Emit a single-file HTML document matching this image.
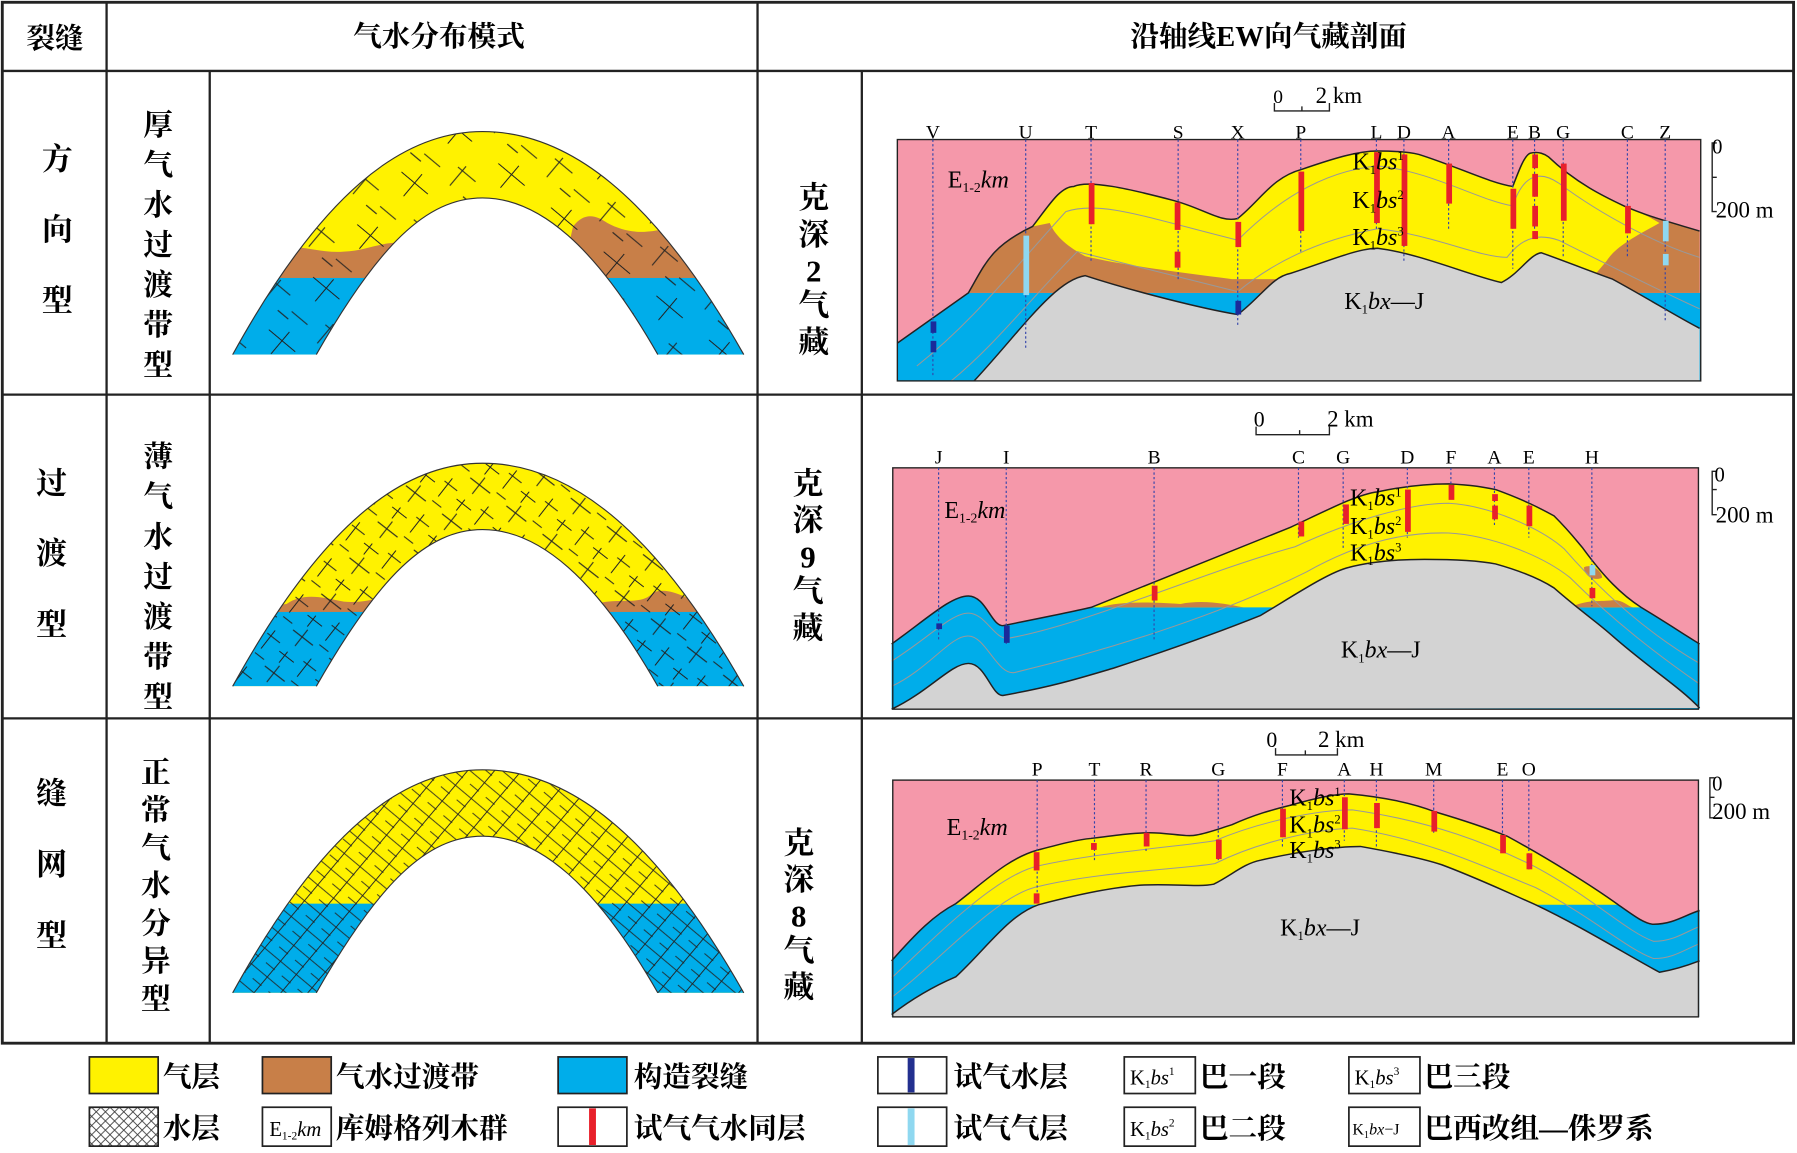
<!DOCTYPE html>
<html><head><meta charset="utf-8"><style>
html,body{margin:0;padding:0;background:#fff}
svg{display:block}
text{font-family:"Liberation Serif","Noto Serif CJK SC",serif}
.cn{font-family:"Liberation Serif","Noto Serif CJK SC","Noto Sans CJK SC",serif;font-weight:bold}
</style></head><body>
<svg width="1797" height="1153" viewBox="0 0 1568 1008" preserveAspectRatio="none" xmlns="http://www.w3.org/2000/svg">
<defs>
<pattern id="h1" width="60" height="60" patternUnits="userSpaceOnUse" patternTransform="rotate(40)">
<path d="M5 10h30M20 0v25M40 35h20M45 30v22M10 45h18M0 52h12" stroke="#222" stroke-width="0.9" fill="none"/>
</pattern>
<pattern id="h2" width="40" height="40" patternUnits="userSpaceOnUse" patternTransform="rotate(38)">
<path d="M2 8h22M12 0v18M26 24h14M30 18v20M4 30h16M10 26v12M28 4h10" stroke="#222" stroke-width="0.9" fill="none"/>
</pattern>
<pattern id="h3" width="18" height="18" patternUnits="userSpaceOnUse" patternTransform="rotate(40)">
<path d="M0 5h18M9 0v18M0 14h10" stroke="#222" stroke-width="0.8" fill="none"/>
</pattern>
<pattern id="xx" width="8" height="8" patternUnits="userSpaceOnUse"><path d="M0 0L8 8M8 0L0 8" stroke="#333" stroke-width="0.7"/></pattern>
<path id="arch" d="M203,310 C280,170 350,115 421,115 C495,115 570,170 649,310 L574,310 C520,215 470,173 421,173 C372,173 330,215 276,310 Z"/>
<clipPath id="ca"><use href="#arch"/></clipPath>
</defs>

<!-- Table -->
<rect x="2" y="2" width="1563" height="910" fill="none" stroke="#222" stroke-width="2.5"/>
<g stroke="#222" stroke-width="2">
<line x1="2" y1="62" x2="1565" y2="62"/>
<line x1="2" y1="345" x2="1565" y2="345"/>
<line x1="2" y1="628" x2="1565" y2="628"/>
<line x1="93" y1="2" x2="93" y2="912"/>
<line x1="183" y1="62" x2="183" y2="912"/>
<line x1="661" y1="2" x2="661" y2="912"/>
<line x1="752" y1="62" x2="752" y2="912"/>
</g>
<g class="cn" font-size="25" text-anchor="middle">
<text x="48" y="42">裂缝</text>
<text x="383" y="40">气水分布模式</text>
<text x="1107" y="40">沿轴线EW向气藏剖面</text>
</g>
<g class="cn" font-size="27" text-anchor="middle">
<text x="50" y="148">方</text><text x="50" y="210">向</text><text x="50" y="272">型</text>
<text x="45" y="432">过</text><text x="45" y="493">渡</text><text x="45" y="555">型</text>
<text x="45" y="703">缝</text><text x="45" y="765">网</text><text x="45" y="827">型</text>
</g>
<g class="cn" font-size="26" text-anchor="middle">
<text x="138" y="118">厚</text><text x="138" y="153">气</text><text x="138" y="188">水</text><text x="138" y="223">过</text><text x="138" y="258">渡</text><text x="138" y="293">带</text><text x="138" y="328">型</text>
<text x="138" y="408">薄</text><text x="138" y="443">气</text><text x="138" y="478">水</text><text x="138" y="513">过</text><text x="138" y="548">渡</text><text x="138" y="583">带</text><text x="138" y="618">型</text>
<text x="136" y="684">正</text><text x="136" y="717">常</text><text x="136" y="750">气</text><text x="136" y="783">水</text><text x="136" y="816">分</text><text x="136" y="849">异</text><text x="136" y="882">型</text>
</g>
<g class="cn" font-size="27" text-anchor="middle">
<text x="710" y="182">克</text><text x="710" y="214">深</text><text x="710" y="246">2</text><text x="710" y="276">气</text><text x="710" y="308">藏</text>
<text x="705" y="432">克</text><text x="705" y="464">深</text><text x="705" y="496">9</text><text x="705" y="526">气</text><text x="705" y="558">藏</text>
<text x="697" y="746">克</text><text x="697" y="778">深</text><text x="697" y="810">8</text><text x="697" y="840">气</text><text x="697" y="872">藏</text>
</g>

<!-- Arch models -->
<g>
<g clip-path="url(#ca)">
<rect x="190" y="100" width="470" height="220" fill="#fff200"/>
<path d="M190,243 L190,225 L240,222 C260,210 275,222 300,220 C320,219 330,212 350,212 L352,243Z" fill="#c87f48"/>
<path d="M490,243 L500,198 C510,185 520,188 530,195 C545,203 560,205 580,200 L660,195 L660,243Z" fill="#c87f48"/>
<rect x="190" y="243" width="470" height="80" fill="#00adea"/>
<rect x="190" y="100" width="470" height="220" fill="url(#h1)"/>
</g>
<path d="M203,310 C280,170 350,115 421,115 C495,115 570,170 649,310 M574,310 C520,215 470,173 421,173 C372,173 330,215 276,310" fill="none" stroke="#333" stroke-width="1"/>
</g>
<g transform="translate(0,290)">
<g clip-path="url(#ca)">
<rect x="190" y="100" width="470" height="220" fill="#fff200"/>
<path d="M190,245 L250,238 C265,228 280,232 300,236 C320,238 335,230 345,232 L350,245Z" fill="#c87f48"/>
<path d="M510,245 L520,238 C540,232 560,240 570,228 C585,222 600,235 620,240 L660,245Z" fill="#c87f48"/>
<rect x="190" y="245" width="470" height="80" fill="#00adea"/>
<rect x="190" y="100" width="470" height="220" fill="url(#h2)"/>
</g>
<path d="M203,310 C280,170 350,115 421,115 C495,115 570,170 649,310 M574,310 C520,215 470,173 421,173 C372,173 330,215 276,310" fill="none" stroke="#333" stroke-width="1"/>
</g>
<g transform="translate(0,558)">
<g clip-path="url(#ca)">
<rect x="190" y="100" width="470" height="220" fill="#fff200"/>
<rect x="190" y="232" width="470" height="90" fill="#00adea"/>
<rect x="190" y="100" width="470" height="220" fill="url(#h3)"/>
</g>
<path d="M203,310 C280,170 350,115 421,115 C495,115 570,170 649,310 M574,310 C520,215 470,173 421,173 C372,173 330,215 276,310" fill="none" stroke="#333" stroke-width="1"/>
</g>

<!-- Section 1 -->
<g>
<rect x="783" y="122" width="701" height="211" fill="#f598aa"/>
<!-- blue -->
<path d="M783,300 L845,256 L1484,256 L1484,333 L783,333Z" fill="#00adea"/>
<!-- brown + yellow reservoir above water -->
<path d="M845,256 C860,230 865,215 901,198 C915,180 925,163 937,163 C950,157 985,165 1023,175 C1050,182 1065,195 1080,191 C1100,175 1110,155 1136,148 C1165,138 1185,132 1202,132 C1220,132 1230,133 1238,135 C1270,145 1300,160 1320,163 C1325,150 1330,136 1335,134 C1343,132 1348,135 1351,137 C1375,160 1400,172 1417,180 C1440,190 1460,195 1483,202 L1483,256Z" fill="#c87f48"/>
<path d="M901,198 C915,180 925,163 937,163 C950,157 985,165 1023,175 C1050,182 1065,195 1080,191 C1100,175 1110,155 1136,148 C1165,138 1185,132 1202,132 C1220,132 1230,133 1238,135 C1270,145 1300,160 1320,163 C1325,150 1330,136 1335,134 C1343,132 1348,135 1351,137 C1375,160 1400,172 1417,180 C1430,185 1440,190 1448,195 C1430,205 1410,215 1402,228 L1391,241 L1310,247 L1280,240 L1150,244 L1121,244 L1075,244 C1030,238 980,232 947,224 C930,215 920,205 916,195Z" fill="#fff200"/>
<!-- gray -->
<path d="M850,333 C890,290 920,245 947,241 C990,255 1050,270 1080,275 C1100,260 1110,242 1126,239 C1160,228 1185,217 1202,217 C1240,222 1280,240 1310,247 C1325,240 1335,222 1345,221 C1370,230 1390,238 1407,244 C1440,262 1460,275 1483,287 L1483,333Z" fill="#d3d3d3"/>
<g fill="none" stroke="#222" stroke-width="1.3">
<path d="M783,300 L845,256 C860,230 865,215 901,198 C915,180 925,163 937,163 C950,157 985,165 1023,175 C1050,182 1065,195 1080,191 C1100,175 1110,155 1136,148 C1165,138 1185,132 1202,132 C1220,132 1230,133 1238,135 C1270,145 1300,160 1320,163 C1325,150 1330,136 1335,134 C1343,132 1348,135 1351,137 C1375,160 1400,172 1417,180 C1440,190 1460,195 1483,202"/>
<path d="M850,333 C890,290 920,245 947,241 C990,255 1050,270 1080,275 C1100,260 1110,242 1126,239 C1160,228 1185,217 1202,217 C1240,222 1280,240 1310,247 C1325,240 1335,222 1345,221 C1370,230 1390,238 1407,244 C1440,262 1460,275 1483,287"/>
</g>
<g fill="none" stroke="#999" stroke-width="0.9">
<path d="M800,320 C850,280 880,240 930,185 C960,175 1000,190 1080,210 C1110,180 1150,150 1202,145 C1250,150 1290,175 1320,180 C1330,150 1345,150 1360,160 C1400,190 1450,215 1483,225"/>
<path d="M830,333 C870,300 900,260 940,220 C980,230 1040,245 1080,255 C1110,230 1150,210 1202,200 C1250,205 1290,225 1315,225 C1330,205 1345,205 1360,210 C1400,230 1450,255 1483,270"/>
</g>
<rect x="783" y="122" width="701" height="211" fill="none" stroke="#222" stroke-width="1.2"/>
<g stroke="#3344aa" stroke-width="1" stroke-dasharray="2,2">
<line x1="814" y1="122" x2="814" y2="330"/><line x1="895" y1="122" x2="895" y2="305"/><line x1="952" y1="122" x2="952" y2="230"/><line x1="1028" y1="122" x2="1028" y2="245"/><line x1="1080" y1="122" x2="1080" y2="285"/><line x1="1135" y1="122" x2="1135" y2="220"/><line x1="1201" y1="122" x2="1201" y2="200"/><line x1="1225" y1="122" x2="1225" y2="230"/><line x1="1264" y1="122" x2="1264" y2="200"/><line x1="1320" y1="122" x2="1320" y2="235"/><line x1="1339" y1="122" x2="1339" y2="210"/><line x1="1364" y1="122" x2="1364" y2="225"/><line x1="1420" y1="122" x2="1420" y2="225"/><line x1="1453" y1="122" x2="1453" y2="280"/>
</g>
<g fill="#e8202a">
<rect x="950" y="160" width="5" height="36"/><rect x="1025" y="177" width="5" height="24"/><rect x="1025" y="220" width="5" height="14"/><rect x="1078" y="194" width="5" height="22"/><rect x="1133" y="150" width="5" height="52"/><rect x="1199" y="133" width="5" height="62"/><rect x="1223" y="135" width="5" height="80"/><rect x="1262" y="143" width="5" height="35"/><rect x="1318" y="165" width="5" height="35"/><rect x="1337" y="135" width="5" height="12"/><rect x="1337" y="152" width="5" height="20"/><rect x="1337" y="180" width="5" height="18"/><rect x="1337" y="202" width="5" height="7"/><rect x="1362" y="143" width="5" height="50"/><rect x="1418" y="180" width="5" height="24"/>
</g>
<rect x="893" y="206" width="5" height="52" fill="#8fd8f0"/>
<rect x="1451" y="193" width="5" height="18" fill="#8fd8f0"/><rect x="1451" y="222" width="5" height="10" fill="#8fd8f0"/>
<g fill="#1a2a9a"><rect x="812" y="281" width="5" height="10"/><rect x="812" y="298" width="5" height="10"/><rect x="1078" y="263" width="5" height="12"/></g>
<g font-size="17" text-anchor="middle">
<text x="814" y="121">V</text><text x="895" y="121">U</text><text x="952" y="121">T</text><text x="1028" y="121">S</text><text x="1080" y="121">X</text><text x="1135" y="121">P</text><text x="1201" y="121">L</text><text x="1225" y="121">D</text><text x="1264" y="121">A</text><text x="1320" y="121">E</text><text x="1339" y="121">B</text><text x="1364" y="121">G</text><text x="1420" y="121">C</text><text x="1453" y="121">Z</text>
</g>
<g font-size="21"><text x="827" y="164">E<tspan font-size="12" dy="4">1-2</tspan><tspan dy="-4" font-style="italic">km</tspan></text>
<text x="1180" y="148">K<tspan font-size="11" dy="4">1</tspan><tspan dy="-4" font-style="italic">bs</tspan><tspan font-size="11" dy="-8">1</tspan></text>
<text x="1180" y="182">K<tspan font-size="11" dy="4">1</tspan><tspan dy="-4" font-style="italic">bs</tspan><tspan font-size="11" dy="-8">2</tspan></text>
<text x="1180" y="214">K<tspan font-size="11" dy="4">1</tspan><tspan dy="-4" font-style="italic">bs</tspan><tspan font-size="11" dy="-8">3</tspan></text>
<text x="1173" y="270">K<tspan font-size="11" dy="4">1</tspan><tspan dy="-4" font-style="italic">bx</tspan>—J</text></g>
<g stroke="#222" fill="none" stroke-width="1.2"><path d="M1112,90 V97 H1160 V90 M1136,93 V97"/><path d="M1498,125 H1494 V185 H1498 M1494,155 H1498"/></g>
<text x="1111" y="90" font-size="17">0</text><text x="1148" y="90" font-size="20">2 km</text>
<text x="1494" y="134" font-size="18">0</text><text x="1497" y="190" font-size="20">200 m</text>
</g>

<!-- Section 2 -->
<g>
<rect x="779" y="409" width="703" height="211" fill="#f598aa"/>
<path d="M778,563 C810,540 830,521 845,521 C860,521 865,547 875,547 C900,542 930,536 952,531 C1030,500 1090,475 1126,461 C1160,445 1185,432 1202,430 C1230,424 1250,423 1264,423 C1285,424 1295,426 1305,428 C1330,437 1345,445 1356,451 C1370,465 1375,472 1381,479 C1400,505 1415,520 1432,531 C1455,545 1470,555 1483,563 L1483,620 L778,620Z" fill="#00adea"/>
<path d="M952,531 C1030,500 1090,475 1126,461 C1160,445 1185,432 1202,430 C1230,424 1250,423 1264,423 C1285,424 1295,426 1305,428 C1330,437 1345,445 1356,451 C1370,465 1375,472 1381,479 C1400,505 1415,520 1432,531 Z" fill="#fff200"/>
<path d="M960,531 C975,526 1000,526 1030,528 C1050,524 1070,528 1085,531Z M1370,531 C1385,524 1395,526 1405,525 C1415,523 1420,530 1425,531Z M1382,496 C1390,492 1398,500 1398,505 C1392,508 1383,505 1382,496Z" fill="#c87f48"/>
<path d="M778,620 C810,605 830,580 845,580 C860,580 865,608 875,608 C920,600 945,592 972,584 C1030,565 1070,550 1100,538 C1130,520 1160,500 1177,496 C1200,490 1225,489 1243,489 C1270,489 1290,490 1305,493 C1330,500 1345,507 1356,514 C1380,535 1395,545 1407,556 C1440,585 1465,600 1483,619 Z" fill="#d3d3d3"/>
<g fill="none" stroke="#222" stroke-width="1.3">
<path d="M778,563 C810,540 830,521 845,521 C860,521 865,547 875,547 C900,542 930,536 952,531 C1030,500 1090,475 1126,461 C1160,445 1185,432 1202,430 C1230,424 1250,423 1264,423 C1285,424 1295,426 1305,428 C1330,437 1345,445 1356,451 C1370,465 1375,472 1381,479 C1400,505 1415,520 1432,531 C1455,545 1470,555 1483,563"/>
<path d="M778,620 C810,605 830,580 845,580 C860,580 865,608 875,608 C920,600 945,592 972,584 C1030,565 1070,550 1100,538 C1130,520 1160,500 1177,496 C1200,490 1225,489 1243,489 C1270,489 1290,490 1305,493 C1330,500 1345,507 1356,514 C1380,535 1395,545 1407,556 C1440,585 1465,600 1483,619"/>
</g>
<g fill="none" stroke="#999" stroke-width="0.9">
<path d="M778,578 C810,558 830,536 845,536 C860,536 868,560 880,558 C950,545 1050,500 1130,478 C1180,455 1230,440 1264,440 C1300,442 1345,462 1365,480 C1400,520 1440,555 1483,580"/>
<path d="M778,600 C810,585 830,555 845,556 C860,556 870,590 885,588 C960,570 1060,540 1140,500 C1190,472 1230,465 1264,466 C1300,468 1345,485 1370,505 C1410,545 1450,575 1483,598"/>
</g>
<rect x="779" y="409" width="703" height="211" fill="none" stroke="#222" stroke-width="1.2"/>
<g stroke="#3344aa" stroke-width="1" stroke-dasharray="2,2">
<line x1="819" y1="409" x2="819" y2="560"/><line x1="878" y1="409" x2="878" y2="565"/><line x1="1007" y1="409" x2="1007" y2="560"/><line x1="1133" y1="409" x2="1133" y2="470"/><line x1="1172" y1="409" x2="1172" y2="480"/><line x1="1228" y1="409" x2="1228" y2="470"/><line x1="1266" y1="409" x2="1266" y2="435"/><line x1="1304" y1="409" x2="1304" y2="460"/><line x1="1334" y1="409" x2="1334" y2="470"/><line x1="1389" y1="409" x2="1389" y2="530"/>
</g>
<g fill="#e8202a"><rect x="1005" y="512" width="5" height="13"/><rect x="1133" y="456" width="5" height="13"/><rect x="1172" y="441" width="5" height="17"/><rect x="1226" y="428" width="5" height="37"/><rect x="1264" y="424" width="5" height="13"/><rect x="1302" y="432" width="5" height="6"/><rect x="1302" y="442" width="5" height="12"/><rect x="1332" y="442" width="5" height="18"/><rect x="1387" y="514" width="5" height="9"/></g>
<rect x="1387" y="494" width="5" height="9" fill="#8fd8f0"/>
<g fill="#1a2a9a"><rect x="817" y="545" width="5" height="5"/><rect x="876" y="547" width="5" height="15"/></g>
<g font-size="17" text-anchor="middle">
<text x="819" y="405">J</text><text x="878" y="405">I</text><text x="1007" y="405">B</text><text x="1133" y="405">C</text><text x="1172" y="405">G</text><text x="1228" y="405">D</text><text x="1266" y="405">F</text><text x="1304" y="405">A</text><text x="1334" y="405">E</text><text x="1389" y="405">H</text>
</g>
<g font-size="21"><text x="824" y="453">E<tspan font-size="12" dy="4">1-2</tspan><tspan dy="-4" font-style="italic">km</tspan></text>
<text x="1178" y="442">K<tspan font-size="11" dy="4">1</tspan><tspan dy="-4" font-style="italic">bs</tspan><tspan font-size="11" dy="-8">1</tspan></text>
<text x="1178" y="467">K<tspan font-size="11" dy="4">1</tspan><tspan dy="-4" font-style="italic">bs</tspan><tspan font-size="11" dy="-8">2</tspan></text>
<text x="1178" y="490">K<tspan font-size="11" dy="4">1</tspan><tspan dy="-4" font-style="italic">bs</tspan><tspan font-size="11" dy="-8">3</tspan></text>
<text x="1170" y="575">K<tspan font-size="11" dy="4">1</tspan><tspan dy="-4" font-style="italic">bx</tspan>—J</text></g>
<g stroke="#222" fill="none" stroke-width="1.2"><path d="M1096,373 V380 H1160 V373 M1134,376 V380"/><path d="M1498,412 H1494 V450 H1498 M1494,428 H1498"/></g>
<text x="1094" y="373" font-size="19">0</text><text x="1158" y="373" font-size="20">2 km</text>
<text x="1496" y="421" font-size="18">0</text><text x="1497" y="457" font-size="20">200 m</text>
</g>

<!-- Section 3 -->
<g>
<rect x="779" y="682" width="703" height="207" fill="#f598aa"/>
<path d="M778,840 C800,815 815,800 834,790 C860,770 880,750 906,743 C925,738 940,734 952,733 C975,730 990,728 1003,728 C1020,728 1035,732 1044,730 C1055,728 1065,724 1075,721 C1095,712 1110,708 1126,704 C1150,697 1165,694 1177,694 C1210,697 1235,703 1253,710 C1280,718 1300,725 1315,731 C1350,750 1390,775 1412,791 C1425,800 1435,808 1443,808 C1460,808 1470,800 1483,796 L1483,889 L778,889Z" fill="#00adea"/>
<path d="M834,791 C860,770 880,750 906,743 C925,738 940,734 952,733 C975,730 990,728 1003,728 C1020,728 1035,732 1044,730 C1055,728 1065,724 1075,721 C1095,712 1110,708 1126,704 C1150,697 1165,694 1177,694 C1210,697 1235,703 1253,710 C1280,718 1300,725 1315,731 C1350,750 1390,775 1412,791Z" fill="#fff200"/>
<path d="M778,887 C800,870 820,860 834,854 C860,830 880,800 906,791 C940,782 970,776 993,774 C1020,772 1045,776 1059,773 C1075,765 1085,755 1100,752 C1130,745 1165,740 1187,740 C1215,745 1240,750 1258,756 C1290,768 1315,780 1340,791 C1380,810 1420,835 1448,850 C1460,848 1470,845 1483,840 L1483,889 L778,889Z" fill="#d3d3d3"/>
<g fill="none" stroke="#222" stroke-width="1.3">
<path d="M778,840 C800,815 815,800 834,790 C860,770 880,750 906,743 C925,738 940,734 952,733 C975,730 990,728 1003,728 C1020,728 1035,732 1044,730 C1055,728 1065,724 1075,721 C1095,712 1110,708 1126,704 C1150,697 1165,694 1177,694 C1210,697 1235,703 1253,710 C1280,718 1300,725 1315,731 C1350,750 1390,775 1412,791 C1425,800 1435,808 1443,808 C1460,808 1470,800 1483,796"/>
<path d="M778,887 C800,870 820,860 834,854 C860,830 880,800 906,791 C940,782 970,776 993,774 C1020,772 1045,776 1059,773 C1075,765 1085,755 1100,752 C1130,745 1165,740 1187,740 C1215,745 1240,750 1258,756 C1290,768 1315,780 1340,791 C1380,810 1420,835 1448,850 C1460,848 1470,845 1483,840"/>
</g>
<g fill="none" stroke="#999" stroke-width="0.9">
<path d="M778,855 C820,815 870,765 906,757 C960,745 1030,740 1060,735 C1100,718 1150,708 1180,708 C1250,718 1300,738 1340,758 C1390,785 1420,815 1443,823 C1460,823 1470,815 1483,810"/>
<path d="M778,872 C820,840 870,782 906,775 C960,762 1030,760 1060,755 C1100,735 1150,725 1180,724 C1250,735 1300,760 1340,776 C1390,802 1420,830 1443,838 C1460,838 1470,830 1483,825"/>
</g>
<rect x="779" y="682" width="703" height="207" fill="none" stroke="#222" stroke-width="1.2"/>
<g stroke="#3344aa" stroke-width="1" stroke-dasharray="2,2">
<line x1="905" y1="682" x2="905" y2="790"/><line x1="955" y1="682" x2="955" y2="752"/><line x1="1000" y1="682" x2="1000" y2="745"/><line x1="1063" y1="682" x2="1063" y2="752"/><line x1="1119" y1="682" x2="1119" y2="740"/><line x1="1173" y1="682" x2="1173" y2="735"/><line x1="1201" y1="682" x2="1201" y2="742"/><line x1="1251" y1="682" x2="1251" y2="728"/><line x1="1311" y1="682" x2="1311" y2="740"/><line x1="1334" y1="682" x2="1334" y2="762"/>
</g>
<g fill="#e8202a"><rect x="902" y="745" width="5" height="16"/><rect x="902" y="781" width="5" height="9"/><rect x="952" y="737" width="5" height="6"/><rect x="998" y="728" width="5" height="12"/><rect x="1061" y="734" width="5" height="17"/><rect x="1117" y="707" width="5" height="25"/><rect x="1171" y="697" width="5" height="28"/><rect x="1199" y="702" width="5" height="22"/><rect x="1249" y="709" width="5" height="18"/><rect x="1309" y="730" width="5" height="16"/><rect x="1332" y="746" width="5" height="14"/></g>
<g font-size="17" text-anchor="middle">
<text x="905" y="678">P</text><text x="955" y="678">T</text><text x="1000" y="678">R</text><text x="1063" y="678">G</text><text x="1119" y="678">F</text><text x="1173" y="678">A</text><text x="1201" y="678">H</text><text x="1251" y="678">M</text><text x="1311" y="678">E</text><text x="1334" y="678">O</text>
</g>
<g font-size="21"><text x="826" y="730">E<tspan font-size="12" dy="4">1-2</tspan><tspan dy="-4" font-style="italic">km</tspan></text>
<text x="1125" y="704">K<tspan font-size="11" dy="4">1</tspan><tspan dy="-4" font-style="italic">bs</tspan><tspan font-size="11" dy="-8">1</tspan></text>
<text x="1125" y="728">K<tspan font-size="11" dy="4">1</tspan><tspan dy="-4" font-style="italic">bs</tspan><tspan font-size="11" dy="-8">2</tspan></text>
<text x="1125" y="750">K<tspan font-size="11" dy="4">1</tspan><tspan dy="-4" font-style="italic">bs</tspan><tspan font-size="11" dy="-8">3</tspan></text>
<text x="1117" y="818">K<tspan font-size="11" dy="4">1</tspan><tspan dy="-4" font-style="italic">bx</tspan>—J</text></g>
<g stroke="#222" fill="none" stroke-width="1.2"><path d="M1113,654 V660 H1167 V654 M1139,656 V660"/><path d="M1496,680 H1492 V715 H1496 M1492,697 H1496"/></g>
<text x="1105" y="653" font-size="19">0</text><text x="1150" y="653" font-size="20">2 km</text>
<text x="1494" y="691" font-size="18">0</text><text x="1494" y="716" font-size="20">200 m</text>
</g>

<!-- Legend -->
<g stroke="#222" stroke-width="1.5">
<rect x="78" y="924" width="60" height="32" fill="#fff200"/>
<rect x="229" y="924" width="60" height="32" fill="#c87f48"/>
<rect x="487" y="924" width="60" height="32" fill="#00adea"/>
<rect x="766" y="924" width="60" height="32" fill="#fff"/>
<rect x="981" y="924" width="62" height="32" fill="#fff"/>
<rect x="1177" y="924" width="62" height="32" fill="#fff"/>
<rect x="78" y="968" width="60" height="34" fill="url(#xx)"/>
<rect x="229" y="968" width="60" height="34" fill="#fff"/>
<rect x="487" y="968" width="60" height="34" fill="#fff"/>
<rect x="766" y="968" width="60" height="34" fill="#fff"/>
<rect x="981" y="968" width="62" height="34" fill="#fff"/>
<rect x="1177" y="968" width="62" height="34" fill="#fff"/>
</g>
<rect x="792" y="925" width="6" height="30" fill="#23308f"/>
<rect x="514" y="969" width="6" height="32" fill="#e8202a"/>
<rect x="792" y="969" width="6" height="32" fill="#8fd8f0"/>
<g font-size="18">
<text x="235" y="993">E<tspan font-size="10" dy="3">1-2</tspan><tspan dy="-3" font-style="italic">km</tspan></text>
<text x="986" y="948">K<tspan font-size="10" dy="3">1</tspan><tspan dy="-3" font-style="italic">bs</tspan><tspan font-size="10" dy="-8">1</tspan></text>
<text x="1182" y="948">K<tspan font-size="10" dy="3">1</tspan><tspan dy="-3" font-style="italic">bs</tspan><tspan font-size="10" dy="-8">3</tspan></text>
<text x="986" y="993">K<tspan font-size="10" dy="3">1</tspan><tspan dy="-3" font-style="italic">bs</tspan><tspan font-size="10" dy="-8">2</tspan></text>
<text x="1180" y="992" font-size="14">K<tspan font-size="9" dy="3">1</tspan><tspan dy="-3" font-style="italic">bx</tspan>−J</text>
</g>
<g class="cn" font-size="25" font-weight="normal">
<text x="142" y="950">气层</text>
<text x="293" y="950">气水过渡带</text>
<text x="553" y="950">构造裂缝</text>
<text x="832" y="950">试气水层</text>
<text x="1047" y="950">巴一段</text>
<text x="1243" y="950">巴三段</text>
<text x="142" y="995">水层</text>
<text x="293" y="995">库姆格列木群</text>
<text x="553" y="995">试气气水同层</text>
<text x="832" y="995">试气气层</text>
<text x="1047" y="995">巴二段</text>
<text x="1243" y="995">巴西改组—侏罗系</text>
</g>
</svg>
</body></html>
